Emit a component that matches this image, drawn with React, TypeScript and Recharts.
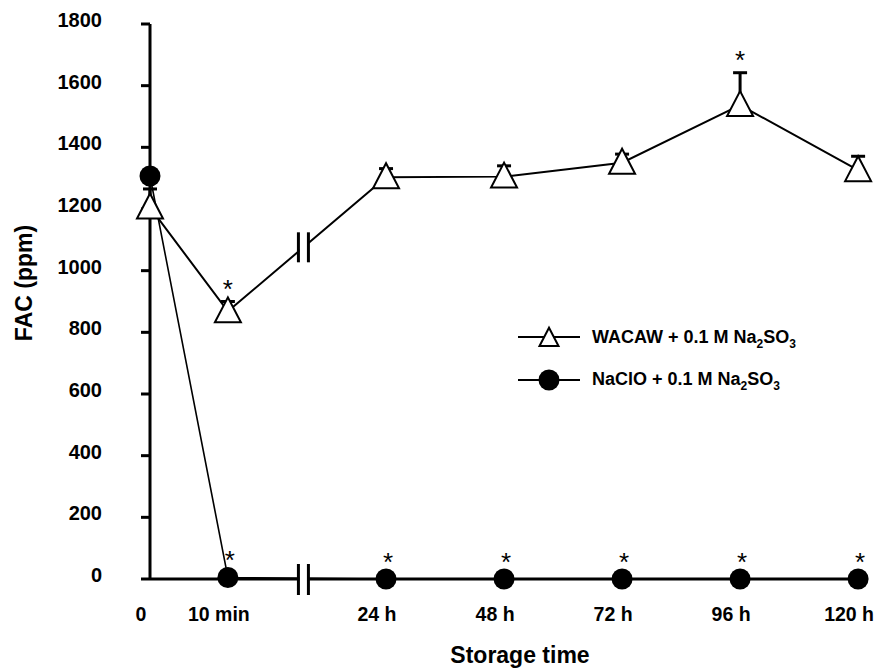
import { ComposedChart, ErrorBar, Legend, Line, ReferenceDot, XAxis, YAxis } from "recharts"

// storage time points (x = position on the broken time axis)
const timeLabels = ["0", "10 min", "24 h", "48 h", "72 h", "96 h", "120 h"]
const timePos = [0, 0.66, 2, 3, 4, 5, 6]
const breakPos = 1.3

// FAC (ppm)
const wacawMean = [1205, 868, 1303, 1305, 1350, 1537, 1326]
const wacawSd = [60, 32, 28, 35, 28, 105, 45]
const nacloMean = [1307, 5, 0, 0, 0, 0, 0]

// significance marks (*)
const wacawSig = [false, true, false, false, false, true, false]
const nacloSig = [false, true, true, true, true, true, true]

const yTicks = [0, 200, 400, 600, 800, 1000, 1200, 1400, 1600, 1800]

const data = timeLabels.map((label, i) => ({
  label,
  t: timePos[i],
  wacaw: wacawMean[i],
  wacawErr: [0, wacawSd[i]],
  naclo: nacloMean[i],
}))

// where the WACAW line crosses the axis break
const wacawAtBreak =
  wacawMean[1] + ((wacawMean[2] - wacawMean[1]) * (breakPos - timePos[1])) / (timePos[2] - timePos[1])

const FONT = "'Liberation Sans', Arial, sans-serif"

const Triangle = ({ cx, cy, size = 26 }: any) => {
  const h = size * 0.96
  const top = cy - h * 0.56
  const bot = cy + h * 0.44
  return (
    <polygon
      points={`${cx},${top} ${cx - size / 2},${bot} ${cx + size / 2},${bot}`}
      fill="#fff"
      stroke="#000"
      strokeWidth={2}
      strokeLinejoin="miter"
    />
  )
}

const Star = ({ cx, cy, dy }: any) => (
  <text x={cx} y={cy + dy} textAnchor="middle" fontFamily={FONT} fontSize={26} fill="#000">
    *
  </text>
)

const AxisBreak = ({ cx, cy }: any) => (
  <g>
    <rect x={cx - 4} y={cy - 3} width={8} height={6} fill="#fff" />
    <line x1={cx - 5} x2={cx - 5} y1={cy - 15} y2={cy + 16} stroke="#000" strokeWidth={3} />
    <line x1={cx + 5} x2={cx + 5} y1={cy - 15} y2={cy + 16} stroke="#000" strokeWidth={3} />
  </g>
)

const LineBreak = ({ cx, cy }: any) => (
  <g>
    <rect x={cx - 4} y={cy - 10} width={8} height={20} fill="#fff" />
    <line x1={cx - 5} x2={cx - 5} y1={cy - 15} y2={cy + 15} stroke="#000" strokeWidth={3} />
    <line x1={cx + 5} x2={cx + 5} y1={cy - 15} y2={cy + 15} stroke="#000" strokeWidth={3} />
  </g>
)

const XTick = ({ x, y, payload }: any) => (
  <text x={x - 9} y={y + 42} textAnchor="middle" fontFamily={FONT} fontWeight="bold" fontSize={19.5} fill="#000">
    {timeLabels[timePos.indexOf(payload.value)]}
  </text>
)

const YTick = ({ x, y, payload }: any) => (
  <text x={x} y={y + 3} textAnchor="end" fontFamily={FONT} fontWeight="bold" fontSize={20} fill="#000">
    {payload.value}
  </text>
)

const LegendBox = () => (
  <svg width={320} height={90} style={{ display: "block" }}>
    <line x1={8} x2={70} y1={22} y2={22} stroke="#000" strokeWidth={2} />
    <Triangle cx={39} cy={23} size={19} />
    <text x={82} y={28} fontFamily={FONT} fontWeight="bold" fontSize={18} fill="#000">
      WACAW + 0.1 M Na<tspan dy={5} fontSize={12}>2</tspan>
      <tspan dy={-5}>SO</tspan>
      <tspan dy={5} fontSize={12}>3</tspan>
    </text>
    <line x1={8} x2={70} y1={65} y2={65} stroke="#000" strokeWidth={2} />
    <circle cx={39} cy={65} r={10.5} fill="#000" />
    <text x={82} y={70} fontFamily={FONT} fontWeight="bold" fontSize={18} fill="#000">
      NaClO + 0.1 M Na<tspan dy={5} fontSize={12}>2</tspan>
      <tspan dy={-5}>SO</tspan>
      <tspan dy={5} fontSize={12}>3</tspan>
    </text>
  </svg>
)

export default function App() {
  return (
    <div style={{ position: "absolute", left: 0, top: 0, background: "#fff" }}>
      <ComposedChart width={875} height={668} data={data} margin={{ top: 24, right: 11, bottom: 49, left: 90 }}>
        <XAxis
          dataKey="t"
          type="number"
          domain={[0, 6.05]}
          ticks={timePos}
          interval={0}
          tickLine={false}
          tickSize={0}
          tickMargin={0}
          height={40}
          axisLine={{ stroke: "#000", strokeWidth: 3 }}
          tick={<XTick />}
          label={{
            content: ({ viewBox }: any) => (
              <text
                x={viewBox.x + viewBox.width / 2 + 13}
                y={viewBox.y + 84}
                textAnchor="middle"
                fontFamily={FONT}
                fontWeight="bold"
                fontSize={23}
                fill="#000"
              >
                Storage time
              </text>
            ),
          }}
        />
        <YAxis
          type="number"
          domain={[0, 1800]}
          ticks={yTicks}
          interval={0}
          width={60}
          tickSize={9}
          tickMargin={39}
          axisLine={{ stroke: "#000", strokeWidth: 3 }}
          tickLine={{ stroke: "#000", strokeWidth: 3 }}
          tick={<YTick />}
          label={{
            content: () => (
              <text
                x={32}
                y={283}
                transform="rotate(-90, 32, 283)"
                textAnchor="middle"
                fontFamily={FONT}
                fontWeight="bold"
                fontSize={23}
                fill="#000"
              >
                FAC (ppm)
              </text>
            ),
          }}
        />
        <Legend
          layout="vertical"
          align="center"
          verticalAlign="middle"
          content={() => <LegendBox />}
          wrapperStyle={{ left: 510, top: 315, width: 320 }}
        />
        <Line
          dataKey="naclo"
          stroke="#000"
          strokeWidth={1.6}
          isAnimationActive={false}
          activeDot={false}
          dot={(p: any) => <circle key={`n-${p.index}`} cx={p.cx} cy={p.cy} r={10.5} fill="#000" />}
        />
        <Line
          dataKey="wacaw"
          stroke="#000"
          strokeWidth={2}
          isAnimationActive={false}
          activeDot={false}
          dot={(p: any) => <Triangle key={`w-${p.index}`} cx={p.cx} cy={p.cy} />}
        >
          <ErrorBar dataKey="wacawErr" direction="y" width={7} stroke="#000" strokeWidth={3} />
        </Line>
        <ReferenceDot x={breakPos} y={0} r={0} shape={(p: any) => <AxisBreak cx={p.cx} cy={p.cy} />} />
        <ReferenceDot x={breakPos} y={wacawAtBreak} r={0} shape={(p: any) => <LineBreak cx={p.cx} cy={p.cy} />} />
        {timePos.map((t, i) =>
          wacawSig[i] ? (
            <ReferenceDot
              key={`ws-${i}`}
              x={t}
              y={wacawMean[i] + wacawSd[i]}
              r={0}
              shape={(p: any) => <Star cx={p.cx} cy={p.cy} dy={-4} />}
            />
          ) : null
        )}
        {timePos.map((t, i) =>
          nacloSig[i] ? (
            <ReferenceDot
              key={`ns-${i}`}
              x={t}
              y={nacloMean[i]}
              r={0}
              shape={(p: any) => <Star cx={p.cx + 2} cy={p.cy} dy={-8} />}
            />
          ) : null
        )}
      </ComposedChart>
    </div>
  )
}
